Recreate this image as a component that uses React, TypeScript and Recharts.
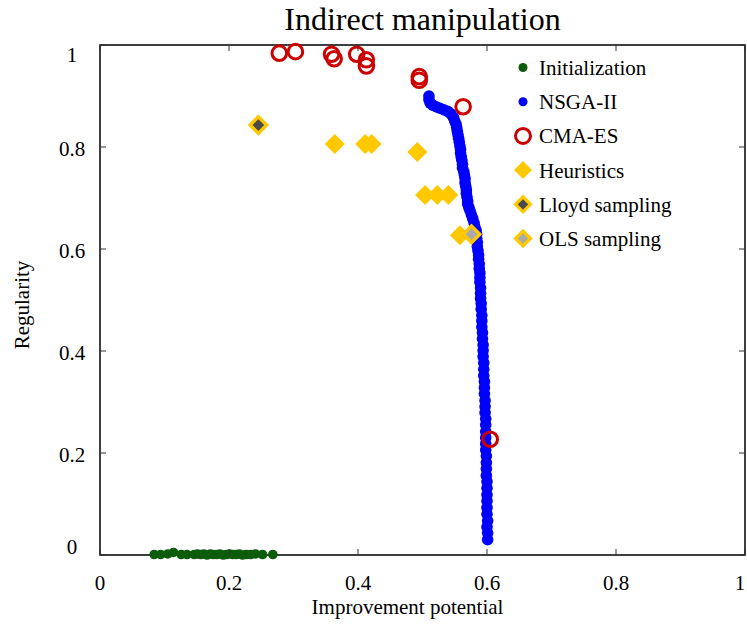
import React from 'react';
import { ScatterChart, Scatter, XAxis, YAxis, ReferenceArea, Legend } from 'recharts';

const initialization = [
  { x: 0.084, y: 0.001 }, { x: 0.094, y: 0.001 }, { x: 0.105, y: 0.002 }, { x: 0.114, y: 0.005 },
  { x: 0.126, y: 0.001 }, { x: 0.135, y: 0.001 }, { x: 0.146, y: 0.001 }, { x: 0.151, y: 0.002 },
  { x: 0.156, y: 0.001 }, { x: 0.161, y: 0.002 }, { x: 0.166, y: 0.0 }, { x: 0.171, y: 0.002 },
  { x: 0.176, y: 0.001 }, { x: 0.181, y: 0.001 }, { x: 0.186, y: 0.002 }, { x: 0.191, y: 0.0 },
  { x: 0.196, y: 0.001 }, { x: 0.201, y: 0.002 }, { x: 0.206, y: 0.001 }, { x: 0.211, y: 0.001 },
  { x: 0.216, y: 0.002 }, { x: 0.221, y: 0.0 }, { x: 0.227, y: 0.001 }, { x: 0.234, y: 0.001 },
  { x: 0.241, y: 0.002 }, { x: 0.252, y: 0.001 }, { x: 0.268, y: 0.001 },
];

const nsga2 = [
  { x: 0.510, y: 0.900 }, { x: 0.510, y: 0.893 }, { x: 0.512, y: 0.886 }, { x: 0.516, y: 0.882 },
  { x: 0.521, y: 0.879 }, { x: 0.527, y: 0.876 }, { x: 0.533, y: 0.873 }, { x: 0.539, y: 0.870 },
  { x: 0.544, y: 0.865 }, { x: 0.548, y: 0.858 }, { x: 0.550, y: 0.851 }, { x: 0.552, y: 0.845 },
  { x: 0.553, y: 0.838 }, { x: 0.554, y: 0.831 }, { x: 0.555, y: 0.824 }, { x: 0.556, y: 0.817 },
  { x: 0.557, y: 0.810 }, { x: 0.558, y: 0.802 }, { x: 0.559, y: 0.795 }, { x: 0.559, y: 0.788 },
  { x: 0.560, y: 0.781 }, { x: 0.561, y: 0.774 }, { x: 0.562, y: 0.766 }, { x: 0.562, y: 0.759 },
  { x: 0.564, y: 0.752 }, { x: 0.565, y: 0.745 }, { x: 0.566, y: 0.738 }, { x: 0.566, y: 0.730 },
  { x: 0.567, y: 0.723 }, { x: 0.568, y: 0.716 }, { x: 0.568, y: 0.709 }, { x: 0.569, y: 0.702 },
  { x: 0.570, y: 0.694 }, { x: 0.570, y: 0.688 }, { x: 0.572, y: 0.681 }, { x: 0.574, y: 0.674 },
  { x: 0.576, y: 0.666 }, { x: 0.578, y: 0.659 }, { x: 0.580, y: 0.651 }, { x: 0.581, y: 0.644 },
  { x: 0.583, y: 0.637 }, { x: 0.584, y: 0.629 }, { x: 0.584, y: 0.621 }, { x: 0.585, y: 0.613 },
  { x: 0.585, y: 0.605 }, { x: 0.586, y: 0.597 }, { x: 0.587, y: 0.588 }, { x: 0.587, y: 0.580 },
  { x: 0.588, y: 0.571 }, { x: 0.588, y: 0.562 }, { x: 0.589, y: 0.553 }, { x: 0.589, y: 0.544 },
  { x: 0.589, y: 0.535 }, { x: 0.590, y: 0.524 }, { x: 0.590, y: 0.513 }, { x: 0.590, y: 0.503 },
  { x: 0.591, y: 0.493 }, { x: 0.591, y: 0.482 }, { x: 0.592, y: 0.470 }, { x: 0.592, y: 0.459 },
  { x: 0.592, y: 0.447 }, { x: 0.593, y: 0.436 }, { x: 0.593, y: 0.424 }, { x: 0.594, y: 0.412 },
  { x: 0.594, y: 0.401 }, { x: 0.594, y: 0.389 }, { x: 0.595, y: 0.377 }, { x: 0.595, y: 0.364 },
  { x: 0.595, y: 0.352 }, { x: 0.596, y: 0.340 }, { x: 0.596, y: 0.328 }, { x: 0.596, y: 0.316 },
  { x: 0.597, y: 0.303 }, { x: 0.597, y: 0.291 }, { x: 0.597, y: 0.279 }, { x: 0.598, y: 0.267 },
  { x: 0.598, y: 0.255 }, { x: 0.598, y: 0.242 }, { x: 0.598, y: 0.230 }, { x: 0.598, y: 0.218 },
  { x: 0.598, y: 0.206 }, { x: 0.599, y: 0.194 }, { x: 0.599, y: 0.181 }, { x: 0.599, y: 0.169 },
  { x: 0.599, y: 0.156 }, { x: 0.600, y: 0.144 }, { x: 0.600, y: 0.131 }, { x: 0.600, y: 0.118 },
  { x: 0.600, y: 0.106 }, { x: 0.600, y: 0.093 }, { x: 0.600, y: 0.080 }, { x: 0.601, y: 0.067 },
  { x: 0.600, y: 0.055 }, { x: 0.601, y: 0.043 }, { x: 0.601, y: 0.030 },
];

const cmaes = [
  { x: 0.278, y: 0.984 }, { x: 0.303, y: 0.987 }, { x: 0.359, y: 0.982 }, { x: 0.363, y: 0.973 },
  { x: 0.398, y: 0.982 }, { x: 0.413, y: 0.971 }, { x: 0.413, y: 0.959 }, { x: 0.495, y: 0.938 },
  { x: 0.495, y: 0.931 }, { x: 0.563, y: 0.879 }, { x: 0.605, y: 0.227 },
];

const heuristics = [
  { x: 0.364, y: 0.806 }, { x: 0.411, y: 0.806 }, { x: 0.421, y: 0.806 }, { x: 0.492, y: 0.790 },
  { x: 0.504, y: 0.706 }, { x: 0.523, y: 0.706 }, { x: 0.540, y: 0.706 }, { x: 0.558, y: 0.627 },
];

const lloydSampling = [{ x: 0.2455, y: 0.843 }];
const olsSampling = [{ x: 0.576, y: 0.629 }];

const seriesNames = ['Initialization', 'NSGA-II', 'CMA-ES', 'Heuristics', 'Lloyd sampling', 'OLS sampling'];
const xTicks = [0, 0.2, 0.4, 0.6, 0.8, 1];
const yTicks = [0, 0.2, 0.4, 0.6, 0.8, 1];

const FONT = "'Liberation Serif', 'Times New Roman', serif";
const W = 747;
const H = 628;
const PLOT_LEFT = 100;
const PLOT_RIGHT = 745;
const PLOT_TOP = 45;
const PLOT_BOTTOM = 555;
const TICK = 6;

const GREEN = '#0c5c0c';
const BLUE = '#0000ff';
const RED = '#cc0000';
const GOLD = '#ffc800';

const diamondPoints = (cx: number, cy: number, d: number) =>
  `${cx},${cy - d} ${cx + d},${cy} ${cx},${cy + d} ${cx - d},${cy}`;

const Dot = (color: string, r: number) => (p: any) => <circle cx={p.cx} cy={p.cy} r={r} fill={color} />;
const Ring = (p: any) => <circle cx={p.cx} cy={p.cy} r={7.3} fill="none" stroke={RED} strokeWidth={3} />;
const Diamond = (p: any) => <polygon points={diamondPoints(p.cx, p.cy, 10)} fill={GOLD} />;
const LloydDiamond = (p: any) => (
  <polygon points={diamondPoints(p.cx, p.cy, 8.3)} fill="#4a4a4a" stroke={GOLD} strokeWidth={3.4} />
);
const OlsDiamond = (p: any) => (
  <polygon points={diamondPoints(p.cx, p.cy, 8.3)} fill="#aaaaaa" stroke={GOLD} strokeWidth={3.4} />
);

const XTick = (props: any) => {
  const { x, y, payload } = props;
  const v = payload.value;
  const dx = v === 1 ? -5 : 0;
  return (
    <g>
      <line x1={x} y1={y} x2={x} y2={y - TICK} stroke="#333" strokeWidth={1} />
      <line x1={x} y1={PLOT_TOP} x2={x} y2={PLOT_TOP + TICK} stroke="#333" strokeWidth={1} />
      <text x={x + dx} y={590} textAnchor="middle" fontSize={21} fontFamily={FONT} fill="#000">
        {String(v)}
      </text>
    </g>
  );
};

const YTick = (props: any) => {
  const { x, y, payload } = props;
  const v = payload.value;
  const shift = v === 1 ? 10 : v === 0 ? -8 : 2;
  return (
    <g>
      <line x1={x} y1={y} x2={x + TICK} y2={y} stroke="#333" strokeWidth={1} />
      <line x1={PLOT_RIGHT} y1={y} x2={PLOT_RIGHT - TICK} y2={y} stroke="#333" strokeWidth={1} />
      <text x={72} y={y + 7 + shift} textAnchor="middle" fontSize={21} fontFamily={FONT} fill="#000">
        {String(v)}
      </text>
    </g>
  );
};

const legendMarker = (name: string, cx: number, cy: number) => {
  switch (name) {
    case 'Initialization':
      return <circle cx={cx} cy={cy} r={4.5} fill={GREEN} />;
    case 'NSGA-II':
      return <circle cx={cx} cy={cy} r={4.5} fill={BLUE} />;
    case 'CMA-ES':
      return <circle cx={cx} cy={cy} r={7.5} fill="none" stroke={RED} strokeWidth={3} />;
    case 'Heuristics':
      return <polygon points={diamondPoints(cx, cy, 9)} fill={GOLD} />;
    case 'Lloyd sampling':
      return <polygon points={diamondPoints(cx, cy, 7.5)} fill="#4a4a4a" stroke={GOLD} strokeWidth={3.2} />;
    default:
      return <polygon points={diamondPoints(cx, cy, 7.5)} fill="#aaaaaa" stroke={GOLD} strokeWidth={3.2} />;
  }
};

const LegendContent = () => (
  <svg width={210} height={220} style={{ display: 'block' }}>
    {seriesNames.map((name, i) => {
      const cy = 19.5 + 34.2 * i;
      return (
        <g key={name}>
          {legendMarker(name, 20, cy)}
          <text x={36} y={cy + 7.5} fontSize={21} fontFamily={FONT} fill="#000">
            {name}
          </text>
        </g>
      );
    })}
  </svg>
);

export default function App() {
  return (
    <div style={{ width: W, height: H, overflow: 'hidden' }}>
      <style>{'html,body{margin:0;padding:0;overflow:hidden;}'}</style>
      <ScatterChart
        width={W}
        height={H}
        margin={{ top: PLOT_TOP, right: W - PLOT_RIGHT, bottom: H - PLOT_BOTTOM - 30, left: 0 }}
      >
        <ReferenceArea x1={0} x2={1} y1={0} y2={1} fill="none" stroke="#000" strokeWidth={1.5} fillOpacity={0} />
        <XAxis
          type="number"
          dataKey="x"
          domain={[0, 1]}
          ticks={xTicks}
          height={30}
          axisLine={false}
          tickLine={false}
          tickSize={0}
          tickMargin={0}
          tick={<XTick />}
          interval={0}
        />
        <YAxis
          type="number"
          dataKey="y"
          domain={[0, 1]}
          ticks={yTicks}
          width={PLOT_LEFT}
          axisLine={false}
          tickLine={false}
          tickSize={0}
          tickMargin={0}
          tick={<YTick />}
          interval={0}
        />
        <Scatter name={seriesNames[0]} data={initialization} shape={Dot(GREEN, 4.8)} isAnimationActive={false} />
        <Scatter name={seriesNames[1]} data={nsga2} shape={Dot(BLUE, 5.8)} isAnimationActive={false} />
        <Scatter name={seriesNames[2]} data={cmaes} shape={Ring} isAnimationActive={false} />
        <Scatter name={seriesNames[3]} data={heuristics} shape={Diamond} isAnimationActive={false} />
        <Scatter name={seriesNames[4]} data={lloydSampling} shape={LloydDiamond} isAnimationActive={false} />
        <Scatter name={seriesNames[5]} data={olsSampling} shape={OlsDiamond} isAnimationActive={false} />
        <Legend
          layout="vertical"
          align="center"
          verticalAlign="middle"
          content={<LegendContent />}
          wrapperStyle={{ left: 503, top: 48, width: 210, height: 220 }}
        />
        <text x={422.5} y={30} textAnchor="middle" fontSize={32} fontFamily={FONT} fill="#000">
          Indirect manipulation
        </text>
        <text x={407.5} y={614} textAnchor="middle" fontSize={21} fontFamily={FONT} fill="#000">
          Improvement potential
        </text>
        <text
          x={29}
          y={305}
          textAnchor="middle"
          fontSize={21}
          fontFamily={FONT}
          fill="#000"
          transform="rotate(-90 29 305)"
        >
          Regularity
        </text>
      </ScatterChart>
    </div>
  );
}
